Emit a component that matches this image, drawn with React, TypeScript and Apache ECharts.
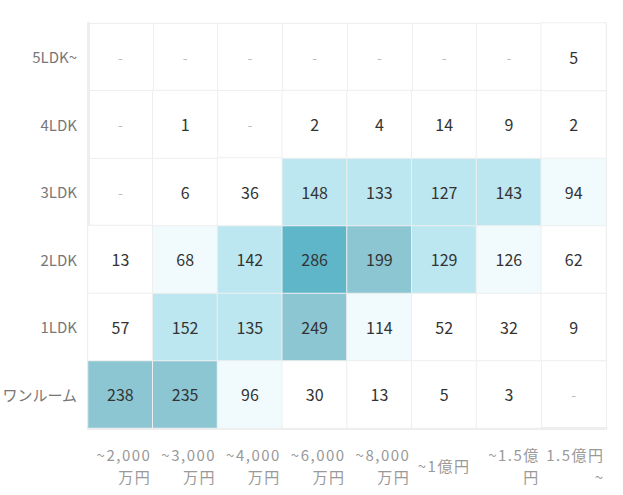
import React, { useEffect, useRef } from "react";
import * as echarts from "echarts";

const xCategories = [
  "~2,000\n万円",
  "~3,000\n万円",
  "~4,000\n万円",
  "~6,000\n万円",
  "~8,000\n万円",
  "~1億円",
  "~1.5億\n円",
  "1.5億円\n~",
];
const yCategories = ["ワンルーム", "1LDK", "2LDK", "3LDK", "4LDK", "5LDK~"];

// rows from bottom (ワンルーム) to top (5LDK~); null = "-"
const rowOneRoom = [238, 235, 96, 30, 13, 5, 3, null];
const row1LDK = [57, 152, 135, 249, 114, 52, 32, 9];
const row2LDK = [13, 68, 142, 286, 199, 129, 126, 62];
const row3LDK = [null, 6, 36, 148, 133, 127, 143, 94];
const row4LDK = [null, 1, null, 2, 4, 14, 9, 2];
const row5LDK = [null, null, null, null, null, null, null, 5];

const rows = [rowOneRoom, row1LDK, row2LDK, row3LDK, row4LDK, row5LDK];

export default function App() {
  const ref = useRef<HTMLDivElement>(null);
  useEffect(() => {
    if (!ref.current) return;
    const chart = echarts.init(ref.current, undefined, { renderer: "svg" });
    const values: any[] = [];
    const dashes: any[] = [];
    rows.forEach((row, yi) => {
      row.forEach((v, xi) => {
        if (v === null) dashes.push([xi, yi]);
        else values.push([xi, yi, v]);
      });
    });
    const font = '"Noto Sans CJK JP", "Noto Sans", sans-serif';
    const xFont = '"Noto Sans CJK JP", "Noto Sans JP", sans-serif';
    chart.setOption({
      animation: false,
      textStyle: { fontFamily: font },
      grid: {
        left: 88,
        right: 17,
        top: 23,
        bottom: 67,
        containLabel: false,
        outerBoundsMode: "none",
      },
      xAxis: {
        type: "category",
        data: xCategories,
        axisLine: { show: true, lineStyle: { color: "#eeeeee", width: 3 } },
        axisTick: { show: false },
        splitLine: { show: true, lineStyle: { color: "#eeeeee", width: 1 } },
        axisLabel: {
          margin: 37,
          interval: 0,
          width: 62,
          verticalAlign: "middle",
          formatter: (v: string) => {
            const parts = v.split("\n");
            const tag = parts.length > 1 ? "r" : "c";
            return parts.map((s) => `{${tag}|${s}}`).join("\n");
          },
          rich: {
            r: {
              align: "right",
              fontSize: 15,
              color: "#999999",
              lineHeight: 22,
              fontFamily: xFont,
            },
            c: {
              align: "center",
              fontSize: 15,
              color: "#999999",
              lineHeight: 22,
              fontFamily: xFont,
            },
          },
        },
      },
      yAxis: {
        type: "category",
        data: yCategories,
        axisLine: { show: true, lineStyle: { color: "#eeeeee", width: 3 } },
        axisTick: { show: false },
        splitLine: { show: true, lineStyle: { color: "#eeeeee", width: 1 } },
        axisLabel: { margin: 11, fontSize: 15, color: "#777777", fontFamily: font },
      },
      visualMap: {
        type: "piecewise",
        show: false,
        seriesIndex: 0,
        dimension: 2,
        pieces: [
          { lt: 65, color: "#ffffff" },
          { gte: 65, lt: 127, color: "#f1fbfd" },
          { gte: 127, lt: 175, color: "#bde7f0" },
          { gte: 175, lt: 260, color: "#8cc6d3" },
          { gte: 260, color: "#5fb6c9" },
        ],
      },
      series: [
        {
          type: "heatmap",
          data: values,
          itemStyle: { borderColor: "#eeeeee", borderWidth: 1 },
          label: { show: true, fontSize: 16, color: "#333333", fontFamily: font },
          emphasis: { disabled: true },
        },
        {
          type: "scatter",
          data: dashes,
          symbolSize: 0,
          silent: true,
          label: {
            show: true,
            position: "inside",
            formatter: "-",
            fontSize: 14,
            color: "#aaaaaa",
            fontFamily: font,
          },
        },
      ],
    });
    return () => chart.dispose();
  }, []);
  return (
    <>
      <style>{`body{margin:0;} text[style*="Noto Sans JP"]{letter-spacing:1.5px;}`}</style>
      <div ref={ref} style={{ width: 623, height: 495 }} />
    </>
  );
}
